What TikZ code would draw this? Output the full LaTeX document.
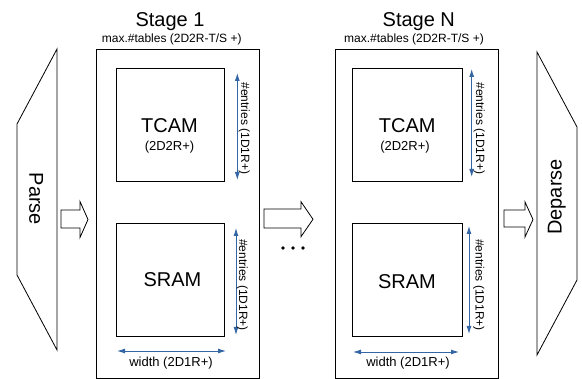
\documentclass[tikz,border=0pt]{standalone}
\usepackage{fontspec}
\setmainfont{Liberation Sans}
\usetikzlibrary{arrows.meta}
\definecolor{dimblue}{HTML}{3465A4}
\begin{document}
\begin{tikzpicture}[x=1pt,y=-1pt,
  box/.style={draw=black,line width=0.8pt,inner sep=0pt},
  big/.style={font=\fontsize{20}{24}\selectfont,inner sep=0pt,anchor=base},
  mid/.style={font=\fontsize{13}{15}\selectfont,inner sep=0pt,anchor=base},
  small/.style={font=\fontsize{12}{14}\selectfont,inner sep=0pt,anchor=base},
  dim/.style={draw=dimblue,line width=0.9pt,{Latex[length=8pt,width=5pt]}-{Latex[length=8pt,width=5pt]}},
  blockarrow/.style={draw=black,line width=0.8pt,fill=white,line join=miter}]
\useasboundingbox (0,0) rectangle (582,379);

% Parse / Deparse
\draw[box] (57,49) -- (17,124) -- (17,275) -- (57,350) -- cycle;
\node[big,rotate=-90] (parse) at (29.5,199) {Parse};
\draw[box] (537,52) -- (577,127) -- (577,280) -- (537,355) -- cycle;
\node[big,rotate=90] (deparse) at (561.5,197) {Deparse};

% Stage boxes
\node[box,minimum width=163pt,minimum height=329pt] (st1) at (177.5,213.5) {};
\node[box,minimum width=163pt,minimum height=329pt] (stN) at (416.5,213.5) {};

\node[big] (t1) at (170,26.5) {Stage 1};
\node[small] (m1) at (171.7,42.5) {max.\#tables (2D2R-T/S +)};
\node[big] (tN) at (418.8,26.5) {Stage N};
\node[small] (mN) at (414,42.5) {max.\#tables (2D2R-T/S +)};

% TCAM / SRAM boxes
\node[box,minimum width=108pt,minimum height=112.7pt] (tcam1) at (170,124.7) {};
\node[box,minimum width=108pt,minimum height=112.7pt] (sram1) at (170,279.7) {};
\node[box,minimum width=109.6pt,minimum height=112.7pt] (tcamN) at (407.5,124.7) {};
\node[box,minimum width=109.6pt,minimum height=112.7pt] (sramN) at (407.5,279.7) {};

\node[big] (tcam1t) at (169.5,132.3) {TCAM};
\node[mid] (tcam1s) at (169.5,150.5) {(2D2R+)};
\node[big] (sram1t) at (172.5,286.7) {SRAM};
\node[big] (tcamNt) at (407.2,132.3) {TCAM};
\node[mid] (tcamNs) at (405,150.3) {(2D2R+)};
\node[big] (sramNt) at (407,288.7) {SRAM};

% dimension arrows
\coordinate (a1t) at (237.3,73);  \coordinate (a1b) at (237.3,180);
\coordinate (b1t) at (236,228);   \coordinate (b1b) at (236,335);
\coordinate (aNt) at (471.7,69);  \coordinate (aNb) at (471.7,177);
\coordinate (bNt) at (469,226);   \coordinate (bNb) at (469,334);
\coordinate (w1l) at (117,351);   \coordinate (w1r) at (226,351);
\coordinate (wNl) at (353,352);   \coordinate (wNr) at (459,352);
\draw[dim] (a1t) -- (a1b);
\draw[dim] (b1t) -- (b1b);
\draw[dim] (aNt) -- (aNb);
\draw[dim] (bNt) -- (bNb);
\draw[dim] (w1l) -- (w1r);
\draw[dim] (wNl) -- (wNr);

\node[small,rotate=-90] (e1) at (241,128.3) {\#entries (1D1R+)};
\node[small,rotate=-90] (e2) at (239,285) {\#entries (1D1R+)};
\node[small,rotate=-90] (e3) at (476,128.3) {\#entries (1D1R+)};
\node[small,rotate=-90] (e4) at (475.5,285) {\#entries (1D1R+)};
\node[mid] (w1) at (171,366.7) {width (2D1R+)};
\node[mid] (wN) at (408,366.7) {width (2D1R+)};

% block arrows
\draw[blockarrow] (61,210) -- (80,210) -- (80,201.5) -- (88,219.5) -- (80,237.5) -- (80,228) -- (61,228) -- cycle;
\draw[blockarrow] (264,209) -- (301,209) -- (301,201.7) -- (313,219.3) -- (301,236.7) -- (301,228) -- (264,228) -- cycle;
\draw[blockarrow] (504,210) -- (525,210) -- (525,202) -- (533,219.5) -- (525,237) -- (525,227) -- (504,227) -- cycle;

% dots
\foreach \x in {283,293,303} \fill (\x,248) circle (1.8);
\end{tikzpicture}
\end{document}
